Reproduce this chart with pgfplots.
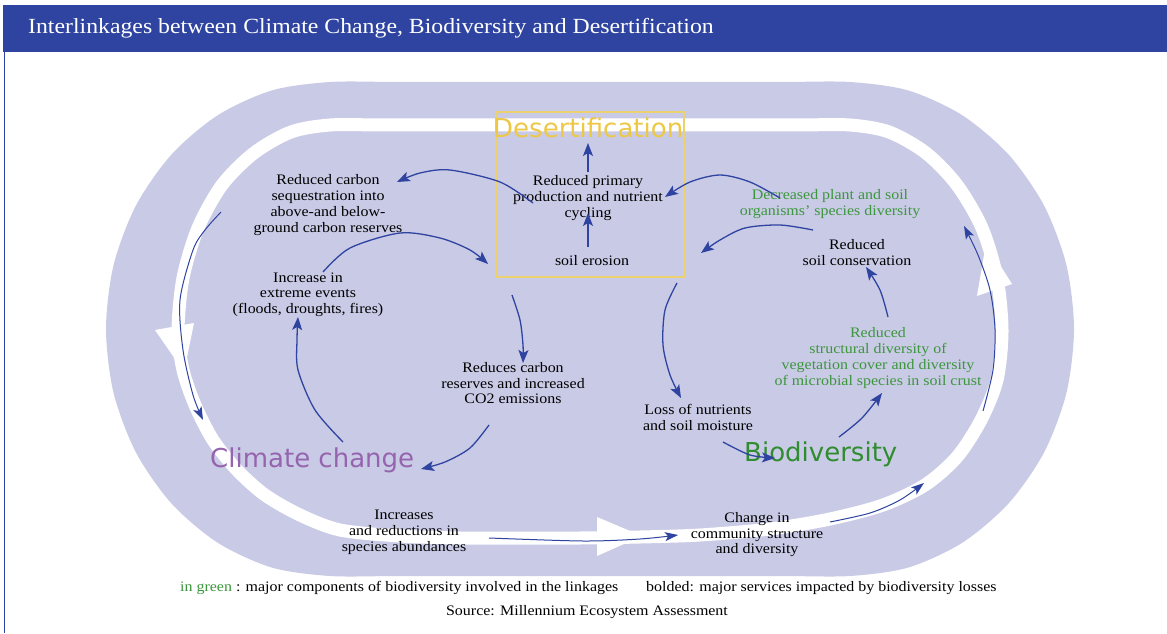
\documentclass[border=0pt]{standalone}
\usepackage{pgfplots}
\pgfplotsset{compat=1.18}
\usetikzlibrary{arrows.meta}
\usepackage{fontspec}
\setmainfont{Liberation Serif}[FakeStretch=1.1]
\newfontfamily\labelfont{DejaVu Sans}
\definecolor{lav}{RGB}{201,202,230}
\definecolor{bl}{RGB}{46,68,160}
\definecolor{grn}{RGB}{60,150,60}
\definecolor{bgrn}{RGB}{47,140,47}
\definecolor{purp}{RGB}{150,100,175}
\definecolor{yel}{RGB}{237,200,70}
\definecolor{ybox}{RGB}{235,210,110}
\newcommand{\bodyfont}{\fontsize{14.5}{16}\selectfont}
\newcommand{\tl}[4][black]{\node[anchor=base,text=#1,font=\bodyfont,inner sep=0pt] at (axis cs:#2,#3) {#4};}
\begin{document}
\begin{tikzpicture}
\begin{axis}[scale only axis, width=1167pt, height=633pt,
  xmin=0, xmax=1167, ymin=0, ymax=633, y dir=reverse,
  hide axis, clip=false,
  arr/.style={color=bl, line width=1.3pt, smooth, -{Stealth[length=13pt,width=10pt,inset=3pt]}},
  arrthin/.style={color=bl, line width=1.0pt, smooth, -{Stealth[length=13pt,width=9pt,inset=3pt]}}]
% background
\addplot[fill=white, draw=none] coordinates {(0,0) (1167,0) (1167,633) (0,633)} -- cycle;
% title bar
\addplot[fill=bl, draw=none] coordinates {(3,5) (1167,5) (1167,52) (3,52)} -- cycle;
\addplot[color=bl, line width=1.5pt] coordinates {(4.5,52) (4.5,633)};
\node[anchor=base west, text=white, font=\fontsize{21.6}{24}\selectfont, inner sep=0pt] at (axis cs:28,34) {Interlinkages between Climate Change, Biodiversity and Desertification};
% outer lavender shape
\addplot[fill=lav, draw=none, smooth] coordinates {
(590,82) (655,82) (720,82) (785,82) (850,82) (908,90.4) (962,115.1) (1008.4,154.4) (1044,205.5) (1066.4,265) (1074,329) (1066.4,393) (1044,452.5) (1008.4,503.6) (962,542.9) (908,567.6) (850,576) (785,576) (720,576) (655,576) (590,576) (525,576) (460,576) (395,576) (330,576) (272,567.6) (218,542.9) (171.6,503.6) (136,452.5) (113.6,393) (106,329) (113.6,265) (136,205.5) (171.6,154.4) (218,115.1) (272,90.4) (330,82) (395,82) (460,82) (525,82) (590,82)} -- cycle;
% white ring
\addplot[white, line width=13pt, smooth] coordinates {
(450,125) (500,125) (550,125) (600,125) (650,125) (700,125) (750,125) (800,125) (850,125) (889,132) (926,153) (957,185) (982,228) (997,278) (1002,331) (997,380) (981,420) (957,457) (925,485) (883,505) (830,519) (770,529) (700,535) (640,537) (580,538) (520,538) (460,538) (400,536) (340,530) (300,515) (265,495) (237,470) (213,440) (195,405) (183,370) (178,331) (183,278) (198,228) (222,185) (254,153) (291,132) (330,125) (380,125) (430,125) (480,125) (530,125)};
% white arrowheads in the ring
\addplot[fill=white, draw=none] coordinates {(155,330) (194,323) (184,372)} -- cycle;
\addplot[fill=white, draw=none] coordinates {(597,517) (597,556) (642,536)} -- cycle;
\addplot[fill=white, draw=none] coordinates {(977,296) (1012,284) (986,243)} -- cycle;
% desertification box
\addplot[color=ybox, line width=2.5pt] coordinates {(496,112) (684,112) (684,277) (496,277)} -- cycle;
% big labels
\node[anchor=base west, text=yel, font=\labelfont\fontsize{26}{28}\selectfont, inner sep=0pt] at (axis cs:493,138) {Desertification};
\node[anchor=base west, text=purp, font=\labelfont\fontsize{26}{28}\selectfont, inner sep=0pt] at (axis cs:210,467) {Climate change};
\node[anchor=base west, text=bgrn, font=\labelfont\fontsize{26}{28}\selectfont, inner sep=0pt] at (axis cs:744,461) {Biodiversity};
% texts
\tl{328}{184}{Reduced carbon}
\tl{328}{200}{sequestration into}
\tl{328}{216}{above-and below-}
\tl{328}{232}{ground carbon reserves}
\tl{308}{282}{Increase in}
\tl{308}{297}{extreme events}
\tl{308}{313}{(floods, droughts, fires)}
\tl{588}{185}{Reduced primary}
\tl{588}{201}{production and nutrient}
\tl{588}{217}{cycling}
\tl{592}{265}{soil erosion}
\tl[grn]{830}{199}{Decreased plant and soil}
\tl[grn]{830}{215}{organisms’ species diversity}
\tl{857}{249}{Reduced}
\tl{857}{265}{soil conservation}
\tl[grn]{878}{337}{Reduced}
\tl[grn]{878}{353}{structural diversity of}
\tl[grn]{878}{369}{vegetation cover and diversity}
\tl[grn]{878}{385}{of microbial species in soil crust}
\tl{513}{372}{Reduces carbon}
\tl{513}{388}{reserves and increased}
\tl{513}{403}{CO2 emissions}
\tl{698}{414}{Loss of nutrients}
\tl{698}{430}{and soil moisture}
\tl{404}{519}{Increases}
\tl{404}{535}{and reductions in}
\tl{404}{551}{species abundances}
\tl{757}{522}{Change in}
\tl{757}{538}{community structure}
\tl{757}{553}{and diversity}
% footer
\node[anchor=base west, font=\bodyfont, inner sep=0pt] at (axis cs:180,591) {\textcolor{grn}{in green} : major components of biodiversity involved in the linkages};
\node[anchor=base west, font=\bodyfont, inner sep=0pt] at (axis cs:646,591) {bolded: major services impacted by biodiversity losses};
\node[anchor=base, font=\bodyfont, inner sep=0pt] at (axis cs:587,615) {Source: Millennium Ecosystem Assessment};
% arrows
\addplot[arrthin] coordinates {(221,212) (205,230) (193,250) (180,300) (183,350) (193,395) (203,420)};
\addplot[arr] coordinates {(533,203) (500,182) (450,170) (420,173) (397,182)};
\addplot[arr] coordinates {(323,272) (350,248) (400,233) (440,238) (470,250) (488,264)};
\addplot[arr] coordinates {(512,295) (520,320) (523,345) (523,363)};
\addplot[arr] coordinates {(489,425) (470,448) (445,462) (421,469)};
\addplot[arr] coordinates {(343,442) (315,410) (298,370) (297,340) (298,317)};
\addplot[arr] coordinates {(588,247) (588,213)};
\addplot[arr] coordinates {(588,172) (588,143)};
\addplot[arr] coordinates {(780,198) (750,182) (720,175) (690,182) (665,197)};
\addplot[arr] coordinates {(813,230) (780,225) (745,228) (720,240) (701,253)};
\addplot[arr] coordinates {(888,317) (880,290) (866,267)};
\addplot[arr] coordinates {(677,283) (665,310) (663,345) (670,375) (681,398)};
\addplot[arr] coordinates {(723,442) (750,455) (775,458)};
\addplot[arr] coordinates {(839,437) (862,418) (882,393)};
\addplot[arrthin] coordinates {(489,538) (583,541) (640,539) (678,535)};
\addplot[arrthin] coordinates {(830,522) (870,513) (900,500) (924,483)};
\addplot[arrthin] coordinates {(983,411) (993,370) (995,329) (990,290) (978,255) (964,226)};
\end{axis}
\end{tikzpicture}
\end{document}
